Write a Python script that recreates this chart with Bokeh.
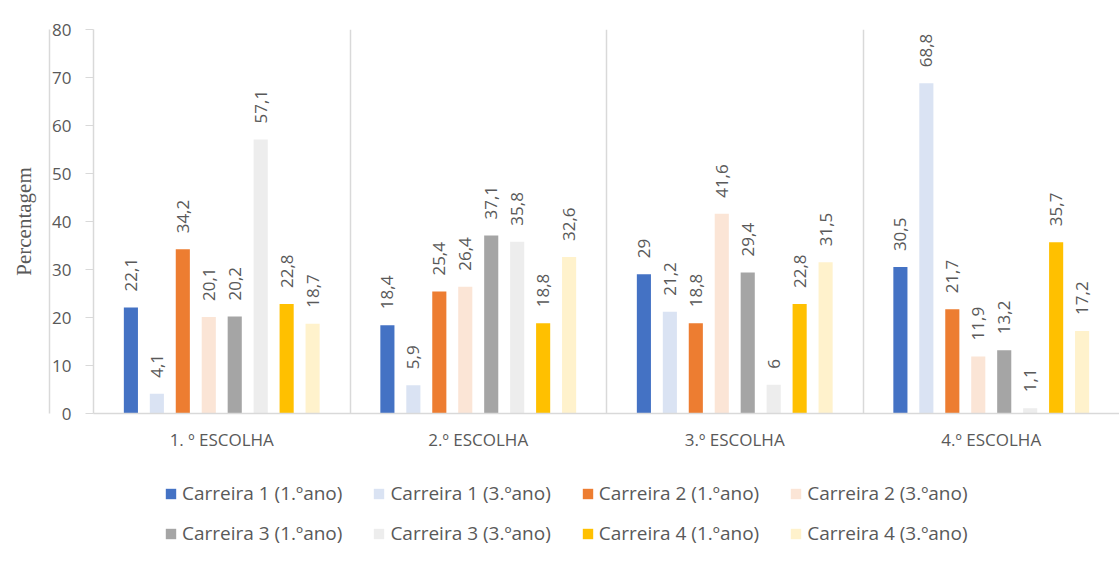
import math
from bokeh.plotting import figure
from bokeh.models import Range1d, FixedTicker, Legend, LinearAxis
from bokeh.layouts import column
from bokeh.core.properties import value
from bokeh.embed import file_html
from bokeh.resources import INLINE

categories = ["1. º ESCOLHA", "2.º ESCOLHA", "3.º ESCOLHA", "4.º ESCOLHA"]
series_names = ["Carreira 1 (1.ºano)", "Carreira 1 (3.ºano)", "Carreira 2 (1.ºano)", "Carreira 2 (3.ºano)",
                "Carreira 3 (1.ºano)", "Carreira 3 (3.ºano)", "Carreira 4 (1.ºano)", "Carreira 4 (3.ºano)"]
carreira1_1ano = [22.1, 18.4, 29.0, 30.5]
carreira1_3ano = [4.1, 5.9, 21.2, 68.8]
carreira2_1ano = [34.2, 25.4, 18.8, 21.7]
carreira2_3ano = [20.1, 26.4, 41.6, 11.9]
carreira3_1ano = [20.2, 37.1, 29.4, 13.2]
carreira3_3ano = [57.1, 35.8, 6.0, 1.1]
carreira4_1ano = [22.8, 18.8, 22.8, 35.7]
carreira4_3ano = [18.7, 32.6, 31.5, 17.2]
y_ticks = [0, 10, 20, 30, 40, 50, 60, 70, 80]

series_values = [carreira1_1ano, carreira1_3ano, carreira2_1ano, carreira2_3ano,
                 carreira3_1ano, carreira3_3ano, carreira4_1ano, carreira4_3ano]
colors = ["#4472C4", "#DAE3F3", "#ED7D31", "#FBE5D6", "#A5A5A5", "#EDEDED", "#FFC000", "#FFF2CC"]

TXT = "#595959"
AX = "#D9D9D9"
FONT = "Open Sans"

W = 1119
H1 = 465
H2 = 105

p = figure(width=W, height=H1, output_backend="svg", toolbar_location=None,
           x_range=Range1d(0, 4), y_range=Range1d(0, 80),
           min_border_left=93, min_border_right=0, min_border_top=29, min_border_bottom=H1 - 413)
p.outline_line_color = None
p.ygrid.grid_line_color = None
p.xgrid.ticker = FixedTicker(ticks=[0, 1, 2, 3, 4])
p.xgrid.grid_line_color = AX
p.xgrid.grid_line_width = 1.5

step = 0.1012
bw = 0.055
bar_x = []
for j, (name, vals, col) in enumerate(zip(series_names, series_values, colors)):
    xs = [i + 0.5 + (j - 3.5) * step for i in range(len(categories))]
    bar_x.append(xs)
    p.vbar(x=xs, top=vals, width=bw, fill_color=col, line_color=None)
    labels = [f"{v:g}".replace(".", ",") for v in vals]
    p.text(x=xs, y=vals, text=labels, angle=math.pi / 2, text_align="left", text_baseline="middle",
           y_offset=-16, text_color=TXT, text_font=value(FONT), text_font_size="17px")

# x axis
p.xaxis.ticker = FixedTicker(ticks=[i + 0.5 for i in range(len(categories))])
p.xaxis.major_label_overrides = {i + 0.5: c for i, c in enumerate(categories)}
p.xaxis.major_tick_out = 0
p.xaxis.major_tick_in = 0
p.xaxis.minor_tick_out = 0
p.xaxis.minor_tick_in = 0
p.xaxis.axis_line_color = AX
p.xaxis.axis_line_width = 1.5
p.xaxis.major_label_text_color = TXT
p.xaxis.major_label_text_font = FONT
p.xaxis.major_label_text_font_size = "17px"
p.xaxis.major_label_standoff = 14

# y axis
p.yaxis.ticker = FixedTicker(ticks=y_ticks)
p.yaxis.minor_tick_out = 0
p.yaxis.minor_tick_in = 0
p.yaxis.major_tick_in = 0
p.yaxis.major_tick_out = 8
p.yaxis.major_tick_line_color = AX
p.yaxis.axis_line_color = AX
p.yaxis.axis_line_width = 1.5
p.yaxis.major_label_text_color = TXT
p.yaxis.major_label_text_font = FONT
p.yaxis.major_label_text_font_size = "17px"
p.yaxis.major_label_standoff = 14

# outer left axis: only its line (chart frame border) and the axis title
outer = LinearAxis(ticker=FixedTicker(ticks=[0, 80]), bounds=(0, 80),
                   major_tick_out=0, major_tick_in=0,
                   minor_tick_out=0, minor_tick_in=0, major_label_text_font_size="0px",
                   major_label_text_alpha=0, major_label_standoff=0,
                   axis_line_color=AX, axis_line_width=1.5,
                   axis_label="Percentagem", axis_label_text_font="Liberation Serif",
                   axis_label_text_font_style="normal", axis_label_text_font_size="21px",
                   axis_label_text_color=TXT, axis_label_standoff=14)
p.add_layout(outer, "left")

# legend panel: a second figure below the chart, its renderers hold the same data out of view
pl = figure(width=W, height=H2, output_backend="svg", toolbar_location=None,
            x_range=Range1d(0, 4), y_range=Range1d(1000, 1001), x_axis_type=None, y_axis_type=None,
            min_border_left=0, min_border_right=0, min_border_top=0, min_border_bottom=0)
pl.outline_line_color = None
pl.grid.grid_line_color = None
legend_items = []
for name, xs, vals, col in zip(series_names, bar_x, series_values, colors):
    r = pl.vbar(x=xs, top=vals, width=bw, fill_color=col, line_color=None)
    legend_items.append((name, [r]))


def make_legend(items, loc):
    lg = Legend(items=items, location=loc, orientation="horizontal")
    lg.label_text_font = FONT
    lg.label_text_font_size = "19px"
    lg.label_text_color = TXT
    lg.glyph_width = 13
    lg.glyph_height = 13
    lg.label_standoff = 5
    lg.label_height = 26
    lg.spacing = 30
    lg.border_line_color = None
    lg.background_fill_alpha = 0
    lg.margin = 0
    lg.padding = 0
    return lg


pl.add_layout(make_legend(legend_items[:4], (71, (H1 + H2) - 506)))
pl.add_layout(make_legend(legend_items[4:], (71, (H1 + H2) - 546)))

layout = column(p, pl, spacing=0)
open("out.html", "w").write(file_html(layout, INLINE))
